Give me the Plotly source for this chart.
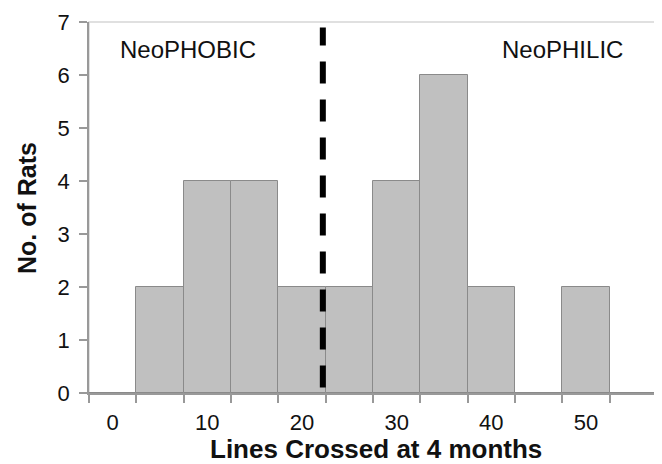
import plotly.graph_objects as go

# Data: histogram bins (lines crossed) and counts
bin_centers = [0, 5, 10, 15, 20, 25, 30, 35, 40, 45, 50, 55]
counts = [0, 2, 4, 4, 2, 2, 4, 6, 2, 0, 2, 0]
x_tick_vals = [0, 10, 20, 30, 40, 50]
x_tick_text = ["0", "10", "20", "30", "40", "50"]
y_tick_vals = [0, 1, 2, 3, 4, 5, 6, 7]
cutoff = 22.2
bin_width = 5

FONT = "Liberation Sans, Arial, sans-serif"

fig = go.Figure()
fig.add_trace(go.Bar(
    x=bin_centers, y=counts, width=bin_width,
    marker=dict(color="#c0c0c0", line=dict(color="#8a8a8a", width=1)),
    showlegend=False,
))

fig.add_shape(type="rect", xref="paper", yref="paper", x0=0, x1=1, y0=0, y1=1,
              line=dict(color="#d6d6d6", width=1.5), layer="below")
fig.add_shape(type="line", xref="x", yref="paper", x0=cutoff, x1=cutoff, y0=0.015, y1=0.985,
              line=dict(color="black", width=6, dash="22px,16px"))

fig.add_annotation(text="NeoPHOBIC", xref="paper", yref="paper", x=0.051, y=0.925,
                   xanchor="left", yanchor="middle", showarrow=False,
                   font=dict(family=FONT, size=24, color="#111"))
fig.add_annotation(text="NeoPHILIC", xref="paper", yref="paper", x=0.944, y=0.925,
                   xanchor="right", yanchor="middle", showarrow=False,
                   font=dict(family=FONT, size=24, color="#111"))
fig.add_annotation(text="<b>Lines Crossed at 4 months</b>", xref="paper", yref="paper",
                   x=0.506, y=-0.150, xanchor="center", yanchor="middle", showarrow=False,
                   font=dict(family=FONT, size=26, color="#111"))
fig.add_annotation(text="<b>No. of Rats</b>", xref="paper", yref="paper",
                   x=-0.109, y=0.499, xanchor="center", yanchor="middle", showarrow=False,
                   textangle=-90, font=dict(family=FONT, size=25, color="#111"))

fig.update_layout(
    width=654, height=456,
    margin=dict(l=81, r=5, t=14, b=71),
    paper_bgcolor="white", plot_bgcolor="white",
    bargap=0,
    font=dict(family=FONT, size=22, color="#111"),
    xaxis=dict(
        range=[-2.5, 57.5], tickvals=x_tick_vals, ticktext=x_tick_text,
        ticks="", showgrid=False, zeroline=False, automargin=False,
        showline=True, linecolor="#999999", linewidth=1.5,
        minor=dict(ticks="outside", tick0=2.5, dtick=5, ticklen=8, tickcolor="#999999", tickwidth=1.5),
        tickfont=dict(size=22), ticklabelstandoff=9,
    ),
    yaxis=dict(
        range=[0, 7], tickvals=y_tick_vals, ticks="outside", ticklen=8,
        tickcolor="#999999", tickwidth=1.5,
        showgrid=False, zeroline=False, automargin=False,
        showline=True, linecolor="#999999", linewidth=1.5,
        tickfont=dict(size=22), ticklabelstandoff=5,
    ),
)

fig.write_html("out.html")
